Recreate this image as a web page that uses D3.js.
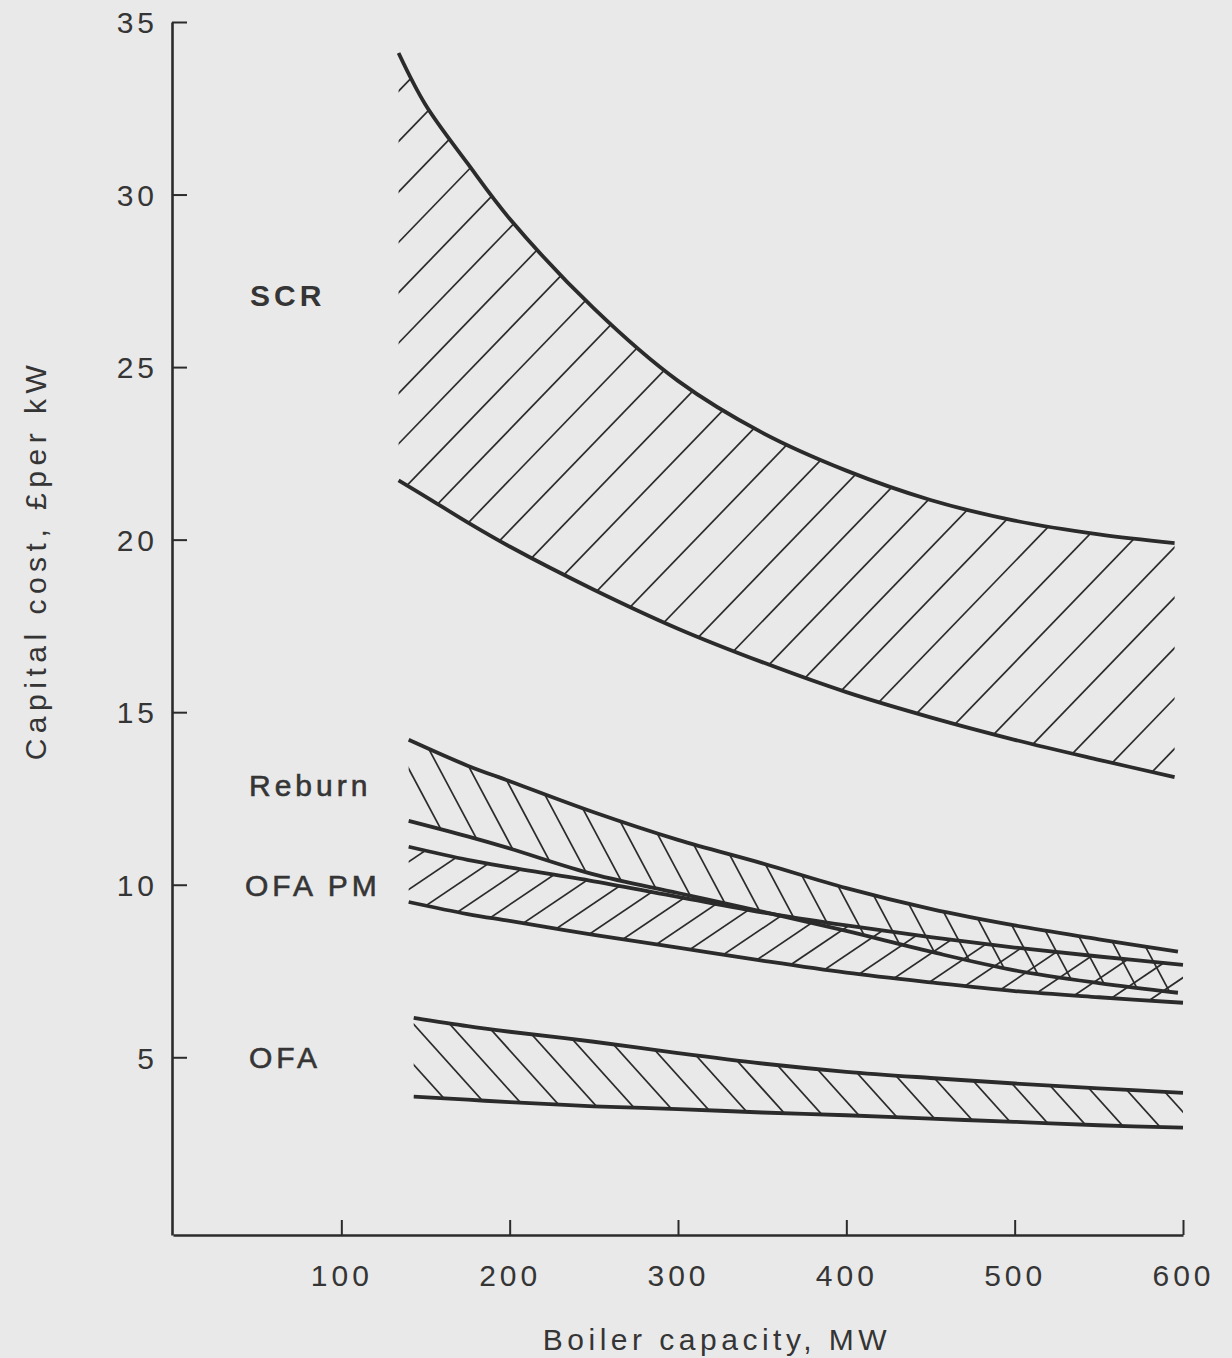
<!DOCTYPE html>
<html>
<head>
<meta charset="utf-8">
<script src="https://cdn.jsdelivr.net/npm/d3@7"></script>
<style>
  html, body { margin: 0; padding: 0; background: #e9e9e9; }
  svg { display: block; }
  text { font-family: "Liberation Sans", Arial, sans-serif; fill: #353535; }
</style>
</head>
<body>
<div id="chart"></div>
<script>
// Valores (MW, libras por kW)
const xTicks = [100, 200, 300, 400, 500, 600]
const yTicks = [5, 10, 15, 20, 25, 30, 35]

const scrCapacity = [134, 150, 175, 200, 250, 300, 350, 400, 450, 500, 550, 595]
const scrUpper = [34.1, 32.6, 30.9, 29.3, 26.7, 24.6, 23.1, 22.0, 21.15, 20.55, 20.15, 19.9]
const scrLower = [21.72, 21.25, 20.5, 19.8, 18.55, 17.42, 16.45, 15.58, 14.85, 14.2, 13.62, 13.12]

const reburnCapacity = [140, 175, 200, 250, 300, 350, 400, 450, 500, 550, 597]
const reburnUpper = [14.2, 13.45, 13.0, 12.1, 11.3, 10.62, 9.9, 9.3, 8.82, 8.42, 8.06]
const reburnLower = [11.85, 11.4, 11.05, 10.3, 9.76, 9.22, 8.66, 8.06, 7.52, 7.15, 6.87]

const ofaPmCapacity = [140, 175, 200, 250, 300, 350, 400, 450, 500, 550, 600]
const ofaPmUpper = [11.1, 10.72, 10.5, 10.1, 9.65, 9.2, 8.82, 8.48, 8.18, 7.92, 7.68]
const ofaPmLower = [9.5, 9.15, 8.95, 8.55, 8.18, 7.8, 7.45, 7.17, 6.92, 6.74, 6.58]

const ofaCapacity = [143, 175, 200, 250, 300, 350, 400, 450, 500, 550, 600]
const ofaUpper = [6.14, 5.9, 5.74, 5.45, 5.12, 4.82, 4.58, 4.4, 4.24, 4.1, 3.97]
const ofaLower = [3.86, 3.77, 3.7, 3.58, 3.5, 3.4, 3.32, 3.22, 3.13, 3.03, 2.96]

const width = 1232, height = 1358

const svg = d3.select('#chart').append('svg')
  .attr('width', width)
  .attr('height', height)

svg.append('rect').attr('width', width).attr('height', height).attr('fill', '#e9e9e9')

// Escalas
const x = d3.scaleLinear().domain([0, 600]).range([173, 1183])
const y = d3.scaleLinear().domain([-0.15, 35]).range([1235, 22])

const ink = '#2b2b2b'
const smooth = d3.curveCatmullRom.alpha(0.5)

// Ejes (ticks hacia adentro)
const xAxis = svg.append('g')
  .attr('transform', `translate(0, ${y(-0.15)})`)
  .call(d3.axisBottom(x).tickValues(xTicks).tickSize(-15).tickSizeOuter(0).tickPadding(50))
const yAxis = svg.append('g')
  .attr('transform', `translate(${x(0) - 1}, 0)`)
  .call(d3.axisLeft(y).tickValues(yTicks).tickSize(-15).tickSizeOuter(0).tickPadding(14))

;[xAxis, yAxis].forEach(a => {
  a.select('.domain').attr('stroke', ink).attr('stroke-width', 2.6)
  a.selectAll('.tick line').attr('stroke', ink).attr('stroke-width', 2)
  a.selectAll('.tick text')
    .attr('font-size', 30)
    .attr('letter-spacing', 4)
    .attr('fill', '#3a3a3a')
    .attr('font-family', '"Liberation Sans", Arial, sans-serif')
})
xAxis.selectAll('.tick text').attr('dy', null).attr('y', 51).attr('dx', 0)
yAxis.selectAll('.tick text').attr('dy', '0.36em')

// Titulos de ejes
svg.append('text')
  .attr('x', 717).attr('y', 1350)
  .attr('text-anchor', 'middle')
  .attr('font-size', 30)
  .attr('letter-spacing', 4.5)
  .text('Boiler capacity, MW')

svg.append('text')
  .attr('transform', 'translate(46, 560) rotate(-90)')
  .attr('text-anchor', 'middle')
  .attr('font-size', 30)
  .attr('letter-spacing', 5.5)
  .text('Capital cost, £per kW')

// Rayado de una banda: lineas paralelas recortadas por el area
const drawBand = (id, caps, lower, upper, angle, gap, dir) => {
  const pts = caps.map((c, i) => ({ c, lo: lower[i], up: upper[i] }))
  const area = d3.area()
    .x(d => x(d.c)).y0(d => y(d.lo)).y1(d => y(d.up))
    .curve(smooth)

  svg.append('clipPath').attr('id', `clip-${id}`)
    .append('path').attr('d', area(pts))

  const a = angle * Math.PI / 180
  const d = dir === '/' ? [Math.cos(a), -Math.sin(a)] : [Math.cos(a), Math.sin(a)]
  const n = [-d[1], d[0]]
  const x0 = x(caps[0]), x1 = x(caps[caps.length - 1])
  const y0 = y(d3.max(upper)), y1 = y(d3.min(lower))
  const proj = [[x0, y0], [x1, y0], [x0, y1], [x1, y1]].map(p => p[0] * n[0] + p[1] * n[1])
  const tmin = Math.floor(d3.min(proj) / gap) * gap
  const tmax = d3.max(proj)
  const offsets = d3.range(tmin, tmax + gap, gap)
  const L = 2000

  svg.append('g')
    .attr('clip-path', `url(#clip-${id})`)
    .selectAll('line')
    .data(offsets)
    .enter()
    .append('line')
    .attr('x1', t => n[0] * t - d[0] * L)
    .attr('y1', t => n[1] * t - d[1] * L)
    .attr('x2', t => n[0] * t + d[0] * L)
    .attr('y2', t => n[1] * t + d[1] * L)
    .attr('stroke', ink)
    .attr('stroke-width', 1.7)
}

const drawEdges = (caps, lower, upper) => {
  const line = d3.line()
    .x(d => x(d[0])).y(d => y(d[1]))
    .curve(smooth)
  ;[upper, lower].forEach(vals => {
    svg.append('path')
      .attr('d', line(caps.map((c, i) => [c, vals[i]])))
      .attr('fill', 'none')
      .attr('stroke', ink)
      .attr('stroke-width', 3.8)
  })
}

drawBand('scr', scrCapacity, scrLower, scrUpper, 46, 35, '/')
drawBand('reburn', reburnCapacity, reburnLower, reburnUpper, 62, 27, '\\')
drawBand('ofapm', ofaPmCapacity, ofaPmLower, ofaPmUpper, 34, 23, '/')
drawBand('ofa', ofaCapacity, ofaLower, ofaUpper, 48, 27, '\\')

drawEdges(scrCapacity, scrLower, scrUpper)
drawEdges(reburnCapacity, reburnLower, reburnUpper)
drawEdges(ofaPmCapacity, ofaPmLower, ofaPmUpper)
drawEdges(ofaCapacity, ofaLower, ofaUpper)

// Etiquetas de las bandas
const labels = [
  { text: 'SCR', x: 250, y: 306, bold: true },
  { text: 'Reburn', x: 249, y: 796, bold: false },
  { text: 'OFA PM', x: 245, y: 896, bold: false },
  { text: 'OFA', x: 249, y: 1068, bold: false }
]
svg.selectAll('.band-label')
  .data(labels)
  .enter()
  .append('text')
  .attr('class', 'band-label')
  .attr('x', d => d.x)
  .attr('y', d => d.y)
  .attr('font-size', 30)
  .attr('letter-spacing', 4)
  .attr('font-weight', d => d.bold ? 'bold' : 'normal')
  .attr('stroke', d => d.bold ? 'none' : '#353535')
  .attr('stroke-width', 0.6)
  .text(d => d.text)
</script>
</body>
</html>
